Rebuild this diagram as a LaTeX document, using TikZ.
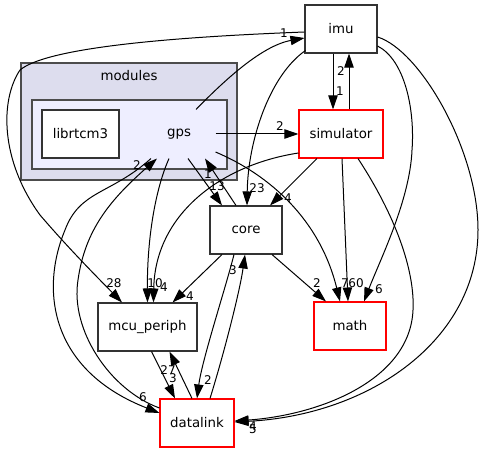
\documentclass[tikz,border=0pt]{standalone}
\usepackage{fontspec}
\setmainfont{DejaVu Sans}
\usetikzlibrary{positioning,calc,arrows.meta}
\definecolor{modfill}{HTML}{DDDDEE}
\definecolor{gpsfill}{HTML}{EEEEFF}

\begin{document}
\begin{tikzpicture}[x=0.75pt,y=-0.75pt]
\tikzstyle{dirbox} = [draw=black!80, line width=0.8pt, fill=white, minimum width=54pt, minimum height=36pt, inner sep=0pt, font=\fontsize{10}{12}\selectfont];
\tikzstyle{redbox} = [dirbox, draw=red];
\tikzstyle{dep} = [line width=0.75pt, -{Triangle[length=10.5pt,width=7pt]}];
\tikzstyle{lbl} = [font=\fontsize{9}{10}\selectfont, inner sep=0pt];

\useasboundingbox (0,0) rectangle (484,452);

% clusters
\draw[fill=modfill, draw=black!70, line width=1.2pt] (21,63) rectangle (237,180);
\node[font=\fontsize{10}{12}\selectfont] (modules) at (129,76) {modules};
\draw[fill=gpsfill, draw=black!70, line width=1.2pt] (32,100) rectangle (227,169);
\node[dirbox, minimum width=57.75pt] (librtcm3) at (80.5,134) {librtcm3};
\node[dirbox, draw=none, fill=none] (gps) at (179,134) {gps};

% directories
\node[dirbox] (imu) at (341,29) {imu};
\node[redbox, minimum width=63pt] (simulator) at (341,134) {simulator};
\node[dirbox] (core) at (246,230) {core};
\node[dirbox, minimum width=74.25pt] (mcu) at (147.5,327) {mcu\_periph};
\node[redbox, minimum width=55.5pt] (datalink) at (197,423) {datalink};
\node[redbox] (math) at (350,326) {math};

% dependencies
\draw[dep] ($(gps.north)+(17,0)$) .. controls (220,85) and (260,46) .. ($(imu.west)+(0,9)$);
\draw[dep] ($(imu.west)+(0,3)$) .. controls (200,36) and (50,45) .. (20,70)
  .. controls (0,100) and (0,160) .. (40,215) .. controls (70,250) and (100,280) .. ($(mcu.north)+(-25.5,0)$);
\draw[dep] (gps.east) -- (simulator.west);
\draw[dep] ($(imu.south)+(-8,0)$) -- ($(simulator.north)+(-8,0)$);
\draw[dep] ($(simulator.north)+(8,0)$) -- ($(imu.south)+(8,0)$);
\draw[dep] ($(imu.south west)+(1,-3)$) .. controls (270,75) and (248,140) .. ($(core.north)+(1,0)$);
\draw[dep] ($(imu.east)+(0,17)$) .. controls (405,60) and (415,110) .. (412,150)
  .. controls (410,200) and (380,260) .. ($(math.north)+(14,0)$);
\draw[dep] ($(imu.east)+(0,8)$) .. controls (420,50) and (478,150) .. (478,230)
  .. controls (478,340) and (370,415) .. ($(datalink.east)+(0,-1)$);
\draw[dep] ($(simulator.south)+(17,0)$) .. controls (395,215) and (415,270) .. (413,310)
  .. controls (410,380) and (320,415) .. ($(datalink.east)+(0,-2)$);
\draw[dep] ($(simulator.south)+(-24,0)$) -- ($(core.north)+(24,0)$);
\draw[dep] ($(simulator.west)+(0,19)$) .. controls (220,165) and (155,215) .. ($(mcu.north)+(6,0)$);
\draw[dep] ($(simulator.south)+(1,0)$) -- ($(math.north)+(-2,0)$);
\draw[dep] ($(gps.east)+(0,18)$) .. controls (270,175) and (320,220) .. ($(math.north)+(-10,0)$);
\draw[dep] ($(gps.south)+(9,0)$) -- ($(core.north)+(-24,0)$);
\draw[dep] ($(core.north)+(-10,0)$) -- ($(gps.south)+(26,0)$);
\draw[dep] ($(gps.south)+(-10,0)$) .. controls (155,190) and (147,240) .. (mcu.north);
\draw[dep] ($(gps.south)+(-28,0)$) .. controls (110,195) and (80,190) .. (65,230)
  .. controls (40,290) and (50,370) .. ($(datalink.west)+(0,-10)$);
\draw[dep] ($(datalink.west)+(0,-15)$) .. controls (110,390) and (70,330) .. (78,280)
  .. controls (85,230) and (110,200) .. ($(gps.south)+(-22,0)$);
\draw[dep] ($(core.south)+(-24,0)$) -- ($(mcu.north)+(25,0)$);
\draw[dep] ($(core.south)+(26,0)$) -- ($(math.north)+(-24,0)$);
\draw[dep] ($(core.south)+(-12,0)$) .. controls (225,290) and (202,360) .. (datalink.north);
\draw[dep] ($(datalink.north)+(13,0)$) .. controls (225,350) and (240,290) .. ($(core.south)+(-1,0)$);
\draw[dep] ($(mcu.south)+(4,0)$) -- ($(datalink.north)+(-22,0)$);
\draw[dep] ($(datalink.north)+(-5,0)$) -- ($(mcu.south)+(22,0)$);

% counts
\node[lbl] (l-gps-imu) at (284,33) {1};
\node[lbl] (l-imu-mcu) at (114,283) {28};
\node[lbl] (l-gps-sim) at (280,126) {2};
\node[lbl] (l-imu-sim) at (340,91) {1};
\node[lbl] (l-sim-imu) at (341,71) {2};
\node[lbl] (l-imu-core) at (257,188) {23};
\node[lbl] (l-sim-core) at (288,198) {4};
\node[lbl] (l-gps-core) at (217,186) {13};
\node[lbl] (l-core-gps) at (208,174) {1};
\node[lbl] (l-gps-mcu) at (155,283) {10};
\node[lbl] (l-sim-mcu) at (164,287) {4};
\node[lbl] (l-dl-gps) at (137,165) {2};
\node[lbl] (l-core-mcu) at (190,296) {4};
\node[lbl] (l-dl-core) at (233,270) {3};
\node[lbl] (l-core-math) at (317,283) {2};
\node[lbl] (l-gps-math) at (345,283) {7};
\node[lbl] (l-sim-math) at (356,283) {60};
\node[lbl] (l-imu-math) at (379,289) {6};
\node[lbl] (l-gps-dl) at (143,397) {6};
\node[lbl] (l-dl-mcu) at (168,370) {27};
\node[lbl] (l-mcu-dl) at (173,378) {3};
\node[lbl] (l-core-dl) at (208,380) {2};
\node[lbl] (l-imu-dl) at (253,426) {4};
\node[lbl] (l-sim-dl) at (253,429) {5};
\end{tikzpicture}
\end{document}
